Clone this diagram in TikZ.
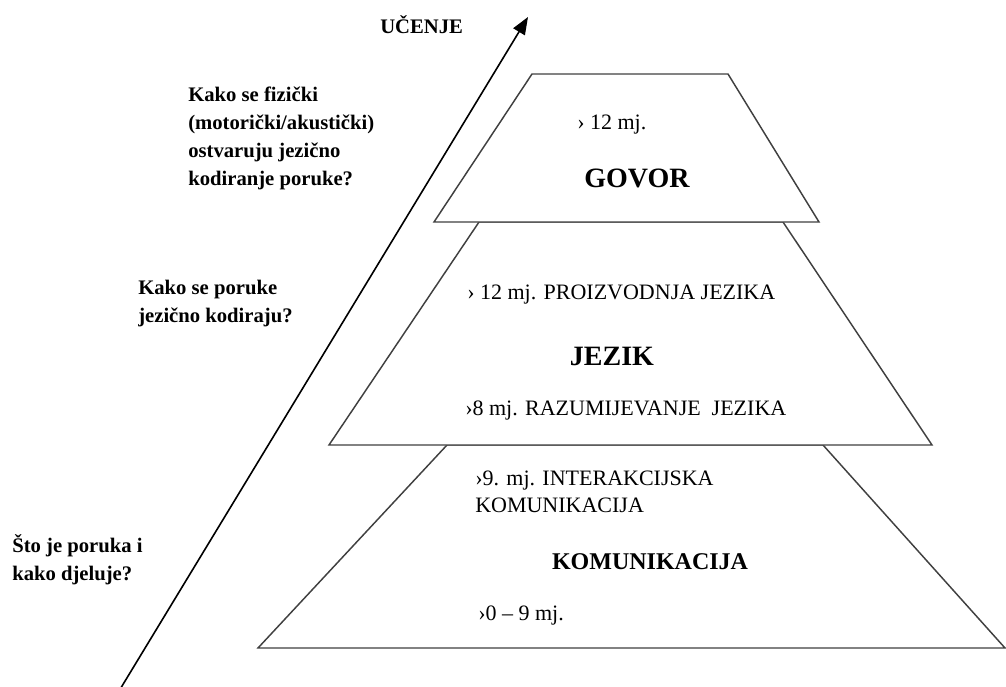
\documentclass[tikz,border=0pt]{standalone}
\usepackage{fontspec}
\setmainfont{Liberation Serif}
\usetikzlibrary{arrows.meta}

\tikzset{
	level/.style={draw=black!75,line width=1.1pt,fill=white,line join=miter},
	question/.style={font=\fontsize{15.5}{20.8}\selectfont\bfseries,align=left,anchor=west,inner sep=0pt},
	age/.style={font=\fontsize{16.5}{20.3}\selectfont,align=left,anchor=west,inner sep=0pt},
	stage/.style={font=\fontsize{21}{25}\selectfont\bfseries,inner sep=0pt}
}

\begin{document}
\begin{tikzpicture}[x=0.75pt,y=-0.75pt]
	\useasboundingbox (0,0) rectangle (1006,686);
	\coordinate (start) at (119,691);
	\coordinate (tip) at (528,17);
	\draw[line width=1.2pt,-{Triangle[length=13pt,width=10pt]}] (start) -- (tip);
	\node[question] (learn) at (380,25) {UČENJE};

	\coordinate (k1) at (447,445);
	\coordinate (k2) at (823,445);
	\coordinate (k3) at (1005,648);
	\coordinate (k4) at (258,648);
	\draw[level] (k1) -- (k2) -- (k3) -- (k4) -- cycle;

	\coordinate (j1) at (479,222);
	\coordinate (j2) at (783,222);
	\coordinate (j3) at (932,445);
	\coordinate (j4) at (329,445);
	\draw[level] (j1) -- (j2) -- (j3) -- (j4) -- cycle;

	\coordinate (g1) at (532,74);
	\coordinate (g2) at (728,74);
	\coordinate (g3) at (819,222);
	\coordinate (g4) at (434,222);
	\draw[level] (g1) -- (g2) -- (g3) -- (g4) -- cycle;

	\node[question] (qgovor) at (188,138.5) {Kako se fizički\\(motorički/akustički)\\ostvaruju jezično\\kodiranje poruke?};
	\node[question] (qjezik) at (138,303.5) {Kako se poruke\\jezično kodiraju?};
	\node[question] (qkomun) at (12,559.5) {Što je poruka i\\kako djeluje?};

	\node[age] (agovor) at (577,125) {› 12 mj.};
	\node[stage] (govor) at (637,178) {GOVOR};

	\node[age] (aproiz) at (467,295) {› 12 mj. PROIZVODNJA JEZIKA};
	\node[stage] (jezik) at (612,356) {JEZIK};
	\node[age] (arazum) at (465,411) {›8 mj. RAZUMIJEVANJE \ JEZIKA};

	\node[age] (ainter) at (475,491.5) {›9. mj. INTERAKCIJSKA\\KOMUNIKACIJA};
	\node[stage,font=\fontsize{18}{22}\selectfont\bfseries] (komun) at (650,562) {KOMUNIKACIJA};
	\node[age] (anula) at (478,616) {›0 – 9 mj.};
\end{tikzpicture}
\end{document}
